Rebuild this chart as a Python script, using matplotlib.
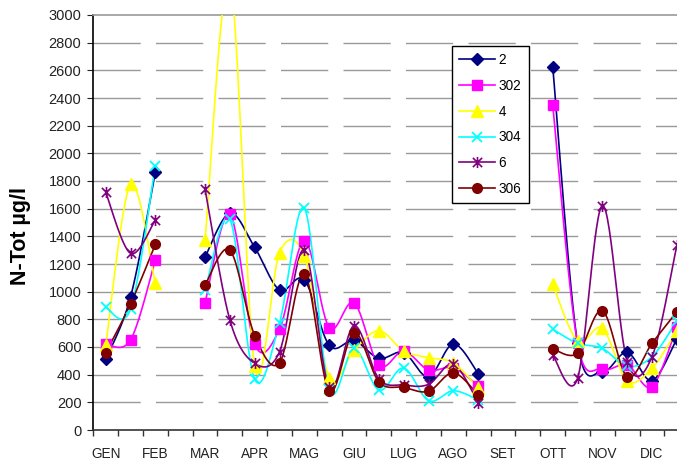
import numpy as np
import matplotlib
matplotlib.use('Agg')
import matplotlib.pyplot as plt
from matplotlib.path import Path
from matplotlib.lines import Line2D

plt.rcParams['font.family'] = ['Liberation Sans', 'DejaVu Sans']

nan = np.nan
months = ['GEN', 'FEB', 'MAR', 'APR', 'MAG', 'GIU', 'LUG', 'AGO', 'SET', 'OTT', 'NOV', 'DIC']
series_names = ['2', '302', '4', '304', '6', '306']

s2 = [511, 962, 1863, nan, 1250, 1568, 1320, 1012, 1085, 612, 647, 518,
      560, 385, 622, 408, nan, nan, 2627, 627, 422, 561, 357, 660]
s302 = [619, 651, 1229, nan, 920, 1560, 619, 730, 1369, 740, 920, 468,
        570, 434, 450, 318, nan, nan, 2349, 627, 441, 470, 313, 747]
s4 = [614, 1776, 1060, nan, 1373, 3250, 463, 1282, 1258, 378, 578, 718,
      571, 523, 485, 301, nan, nan, 1053, 643, 735, 357, 446, 718]
s304 = [887, 875, 1911, nan, 1010, 1523, 366, 776, 1602, 294, 590, 289,
        448, 212, 284, 217, nan, nan, 728, 627, 590, 460, 530, 790]
s6 = [1718, 1277, 1518, nan, 1740, 795, 482, 566, 1301, 308, 754, 370,
      325, 330, 475, 198, nan, nan, 542, 373, 1622, 494, 530, 1337]
s306 = [559, 911, 1342, nan, 1048, 1301, 682, 487, 1125, 282, 704, 349,
        308, 280, 414, 253, nan, nan, 586, 554, 863, 385, 627, 855]

data = [s2, s302, s4, s304, s6, s306]
colors = ['#000080', '#FF00FF', '#FFFF00', '#00FFFF', '#800080', '#800000']

star = Path([(-1, -1), (1, 1), (-1, 1), (1, -1), (0, -1.2), (0, 1.2)],
            [Path.MOVETO, Path.LINETO, Path.MOVETO, Path.LINETO, Path.MOVETO, Path.LINETO])
markers = [dict(marker='D', ms=6, mfc=colors[0]),
           dict(marker='s', ms=6.5, mfc=colors[1]),
           dict(marker='^', ms=8, mfc=colors[2]),
           dict(marker='x', ms=7, mew=1.3),
           dict(marker=star, ms=8, mew=1.2, mfc='none'),
           dict(marker='o', ms=7, mfc=colors[5])]


def smooth_segments(vals):
    vals = np.asarray(vals, dtype=float)
    x = np.arange(len(vals), dtype=float)
    good = ~np.isnan(vals)
    segs = []
    i = 0
    n = len(vals)
    while i < n:
        if not good[i]:
            i += 1
            continue
        j = i
        while j < n and good[j]:
            j += 1
        segs.append((x[i:j], vals[i:j]))
        i = j
    out = []
    for xs, ys in segs:
        P = np.column_stack([xs, ys])
        m = len(P)
        if m == 1:
            out.append((xs, ys))
            continue
        ext = np.vstack([P[0], P, P[-1]])
        pts = []
        t = np.linspace(0, 1, 30)[:, None]
        for k in range(m - 1):
            p0, p1, p2, p3 = ext[k], ext[k + 1], ext[k + 2], ext[k + 3]
            c1 = p1 + (p2 - p0) / 6.0
            c2 = p2 - (p3 - p1) / 6.0
            b = ((1 - t) ** 3) * p1 + 3 * ((1 - t) ** 2) * t * c1 + 3 * (1 - t) * t ** 2 * c2 + t ** 3 * p2
            pts.append(b if k == 0 else b[1:])
        pts = np.vstack(pts)
        out.append((pts[:, 0], pts[:, 1]))
    return out


W, H = 677, 467
fig = plt.figure(figsize=(W / 100, H / 100), dpi=100)
ax = fig.add_axes([93.3 / W, 37 / H, 596 / W, 415 / H])

xcat = np.arange(24)
handles = []
for vals, c, mk, name in zip(data, colors, markers, series_names):
    for sx, sy in smooth_segments(vals):
        ax.plot(sx, sy, color=c, lw=1.2, zorder=3, solid_capstyle='round')
    kw = dict(mk)
    kw.setdefault('mfc', c)
    ax.plot(xcat, vals, linestyle='none', color=c, mec=c, zorder=4, **kw)
    handles.append(Line2D([0], [0], color=c, lw=1.2, mec=c, **kw))

ax.set_xlim(-0.5, 23.5)
ax.set_ylim(0, 3000)
ax.set_yticks(np.arange(0, 3001, 200))
ax.set_xticks(np.arange(0, 24, 2))
ax.set_xticklabels(months, fontsize=9.8)
ax.set_xticks(np.arange(-0.5, 24, 1), minor=True)
ax.tick_params(axis='x', which='major', length=0, pad=12, colors='#222222')
ax.tick_params(axis='x', which='minor', length=4, width=1, direction='out', color='#333333')
ax.tick_params(axis='y', length=4.5, width=0.8, direction='out', pad=4, labelsize=10.5, colors='#222222')

for v in np.arange(200, 3000, 200):
    ax.axhline(v, color='#999999', lw=1, linestyle=(0, (34, 11)), zorder=1)

ax.spines['right'].set_visible(False)
ax.spines['top'].set_color('#999999')
ax.spines['top'].set_linewidth(1.2)
ax.spines['left'].set_color('black')
ax.spines['left'].set_linewidth(1.2)
ax.spines['bottom'].set_color('#333333')
ax.spines['bottom'].set_linewidth(1.2)

fig.text(21 / W, 1 - 236 / H, 'N-Tot µg/l', rotation=90, fontweight='bold',
         fontsize=15.5, ha='center', va='center')

leg = fig.legend(handles, series_names, loc='upper left',
                 bbox_to_anchor=(451.7 / W, 1 - 45.7 / H), borderaxespad=0,
                 fontsize=9.8, frameon=True, fancybox=False, framealpha=1,
                 edgecolor='black', handlelength=2.6, handletextpad=0.3,
                 labelspacing=0.86, borderpad=0.55)
leg.get_frame().set_linewidth(1.0)

fig.savefig('out.png', dpi=100)
